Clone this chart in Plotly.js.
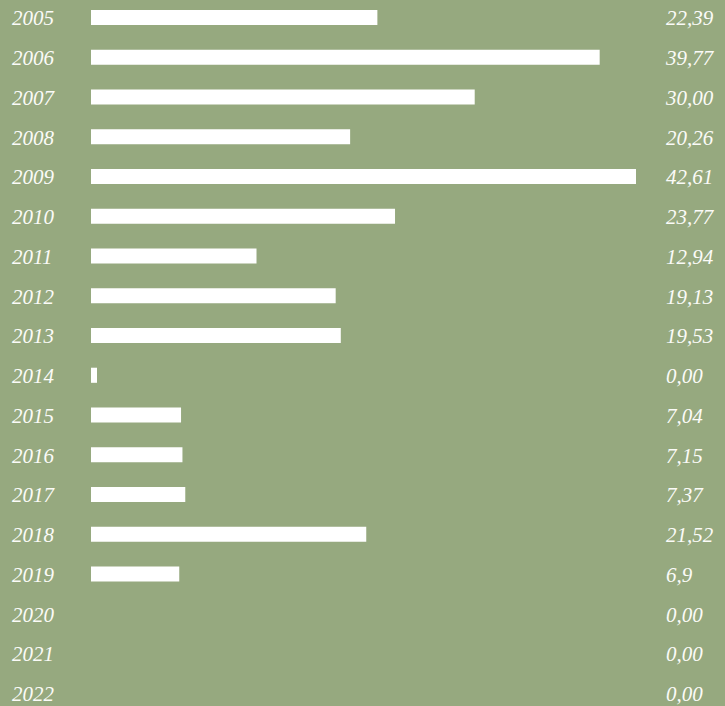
<!DOCTYPE html>
<html>
<head>
<meta charset="utf-8">
<script src="https://cdn.plot.ly/plotly-3.0.1.min.js"></script>
<style>html,body{margin:0;padding:0;background:#96a97f;}#chart{width:725px;height:706px;}</style>
</head>
<body>
<div id="chart"></div>
<script>
const years = ["2005","2006","2007","2008","2009","2010","2011","2012","2013","2014","2015","2016","2017","2018","2019","2020","2021","2022"];
const values = [22.39,39.77,30.00,20.26,42.61,23.77,12.94,19.13,19.53,0.47,7.04,7.15,7.37,21.52,6.9,0,0,0];
const valueLabels = ["22,39","39,77","30,00","20,26","42,61","23,77","12,94","19,13","19,53","0,00","7,04","7,15","7,37","21,52","6,9","0,00","0,00","0,00"];

const font = {family: "Liberation Serif", size: 21, color: "#fbfbf8", style: "italic"};
const scale = 545 / 42.61;
const xLeft = (12 - 91) / scale;
const xRight = (666 - 91) / scale;
const rowIdx = years.map((_, i) => i);
const shift = 2.5 / 39.76;

Plotly.newPlot("chart", [
  {
    type: "bar", orientation: "h", x: values, y: years,
    marker: {color: "#ffffff", line: {width: 0}}, width: 0.38, hoverinfo: "none"
  },
  {
    type: "scatter", mode: "text", x: years.map(() => xLeft), y: rowIdx, yaxis: "y2",
    text: years, textposition: "middle right", textfont: font, cliponaxis: false, hoverinfo: "none"
  },
  {
    type: "scatter", mode: "text", x: years.map(() => xRight), y: rowIdx, yaxis: "y2",
    text: valueLabels, textposition: "middle right", textfont: font, cliponaxis: false, hoverinfo: "none"
  }
], {
  width: 725, height: 706,
  margin: {l: 0, r: 0, t: 0, b: 0},
  paper_bgcolor: "#96a97f", plot_bgcolor: "#96a97f",
  showlegend: false,
  xaxis: {range: [-91 / scale, (725 - 91) / scale], visible: false, fixedrange: true},
  yaxis: {type: "category", range: [17.32, -0.44], visible: false, fixedrange: true},
  yaxis2: {type: "linear", overlaying: "y", range: [17.32 - shift, -0.44 - shift], visible: false, fixedrange: true}
}, {displayModeBar: false, staticPlot: true});
</script>
</body>
</html>
